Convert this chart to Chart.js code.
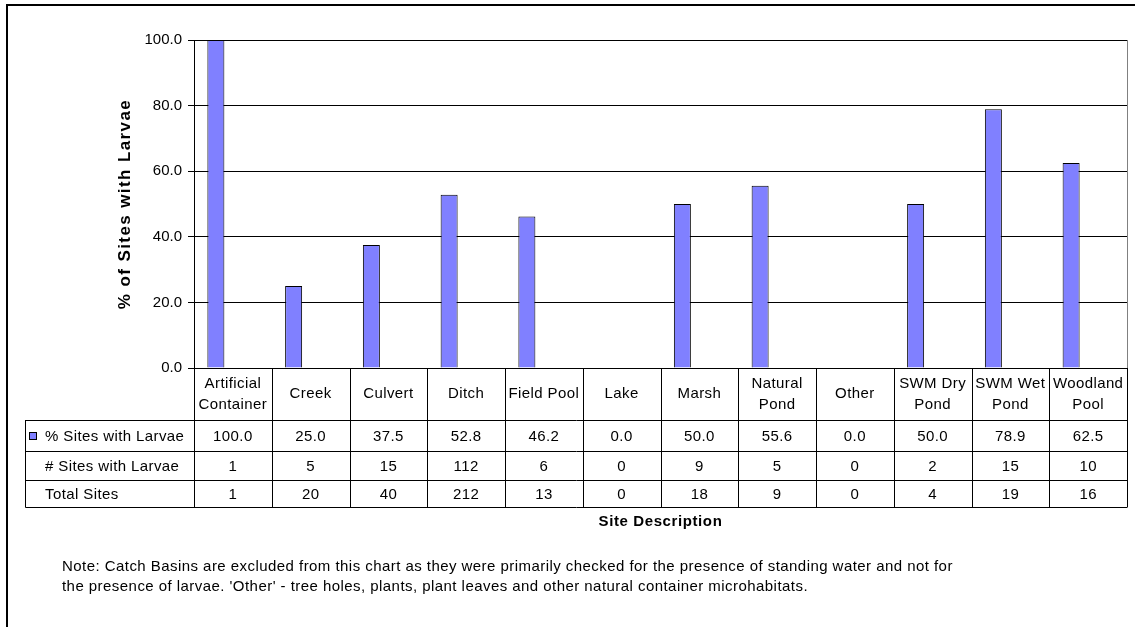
<!DOCTYPE html>
<html>
<head>
<meta charset="utf-8">
<script src="https://cdn.jsdelivr.net/npm/chart.js@4/dist/chart.umd.min.js"></script>
<style>
  html, body { margin: 0; padding: 0; background: #fff; }
  canvas { display: block; }
</style>
</head>
<body>
<canvas id="chart" width="1135" height="627"></canvas>
<script>
// Site types surveyed and the larval results for each
const categories = [
  ['Artificial', 'Container'], 'Creek', 'Culvert', 'Ditch', 'Field Pool', 'Lake',
  'Marsh', ['Natural', 'Pond'], 'Other', ['SWM Dry', 'Pond'], ['SWM Wet', 'Pond'], ['Woodland', 'Pool']
];
const pctWithLarvae   = [100.0, 25.0, 37.5, 52.8, 46.2, 0.0, 50.0, 55.6, 0.0, 50.0, 78.9, 62.5];
const sitesWithLarvae = [1, 5, 15, 112, 6, 0, 9, 5, 0, 2, 15, 10];
const totalSites      = [1, 20, 40, 212, 13, 0, 18, 9, 0, 4, 19, 16];
const yTickValues     = [0, 20, 40, 60, 80, 100];
const rowLabels       = ['% Sites with Larvae', '# Sites with Larvae', 'Total Sites'];
const xAxisTitle      = 'Site Description';
const yAxisTitle      = '% of Sites with Larvae';
const noteLines = [
  'Note: Catch Basins are excluded from this chart as they were primarily checked for the presence of standing water and not for',
  "the presence of larvae. 'Other' - tree holes, plants, plant leaves and other natural container microhabitats."
];

const FONT = "'Liberation Sans', Arial, Helvetica, sans-serif";
const BAR_FILL = '#8080FF';

function spaced(ctx, px) {
  if ('letterSpacing' in ctx) ctx.letterSpacing = px + 'px';
}

// Data table under the plot, axis titles, outer frame and note
const tablePlugin = {
  id: 'dataTable',
  afterDraw(chart) {
    const { ctx, chartArea: area, scales: { x } } = chart;
    const n = categories.length;
    const colW = (area.right - area.left) / n;
    const headBottom = 420;
    const rowLines = [420, 451, 480, 507];
    const keyLeft = 25;

    ctx.save();
    ctx.lineWidth = 1;

    // plot-area right border
    ctx.beginPath();
    ctx.strokeStyle = '#808080';
    ctx.moveTo(Math.round(area.right) + 0.5, area.top);
    ctx.lineTo(Math.round(area.right) + 0.5, area.bottom);
    ctx.stroke();

    ctx.strokeStyle = '#000';
    ctx.beginPath();
    // column separators through header and data rows
    for (let i = 0; i <= n; i++) {
      const cx = Math.round(area.left + i * colW) + 0.5;
      ctx.moveTo(cx, area.bottom);
      ctx.lineTo(cx, rowLines[rowLines.length - 1]);
    }
    // horizontal rules for data rows, including the label column
    rowLines.forEach(y => {
      ctx.moveTo(keyLeft + 0.5, y + 0.5);
      ctx.lineTo(Math.round(area.right) + 0.5, y + 0.5);
    });
    ctx.moveTo(keyLeft + 0.5, rowLines[0]);
    ctx.lineTo(keyLeft + 0.5, rowLines[rowLines.length - 1] + 0.5);
    ctx.stroke();

    ctx.fillStyle = '#000';
    ctx.font = `15px ${FONT}`;
    spaced(ctx, 0.4);
    ctx.textAlign = 'center';
    ctx.textBaseline = 'middle';

    // category header cells
    categories.forEach((cat, i) => {
      const cx = x.getPixelForValue(i);
      const lines = Array.isArray(cat) ? cat : [cat];
      const mid = (area.bottom + headBottom) / 2;
      const lh = 21;
      lines.forEach((t, k) => {
        ctx.fillText(t, cx, mid + (k - (lines.length - 1) / 2) * lh);
      });
    });

    // data rows
    const rows = [pctWithLarvae.map(v => v.toFixed(1)), sitesWithLarvae.map(String), totalSites.map(String)];
    rows.forEach((row, r) => {
      const cy = (rowLines[r] + rowLines[r + 1]) / 2 + 1;
      row.forEach((t, i) => ctx.fillText(t, x.getPixelForValue(i), cy));
      ctx.textAlign = 'left';
      ctx.fillText(rowLabels[r], 45, cy);
      ctx.textAlign = 'center';
    });

    // legend key beside the plotted series row
    const keyY = (rowLines[0] + rowLines[1]) / 2 - 3.5;
    ctx.fillStyle = BAR_FILL;
    ctx.fillRect(29, keyY, 7, 7);
    ctx.strokeStyle = '#000';
    ctx.strokeRect(29.5, keyY + 0.5, 7, 7);

    // horizontal axis caption
    ctx.fillStyle = '#000';
    ctx.font = `bold 15px ${FONT}`;
    spaced(ctx, 0.6);
    ctx.fillText(xAxisTitle, (area.left + area.right) / 2, 522);

    // vertical axis caption
    ctx.save();
    ctx.translate(125, (area.top + area.bottom) / 2);
    ctx.rotate(-Math.PI / 2);
    ctx.font = `bold 17px ${FONT}`;
    spaced(ctx, 1.4);
    ctx.fillText(yAxisTitle, 0, 0);
    ctx.restore();

    // note
    ctx.font = `15px ${FONT}`;
    spaced(ctx, 0.45);
    ctx.textAlign = 'left';
    noteLines.forEach((t, k) => ctx.fillText(t, 62, 567 + k * 20));
    spaced(ctx, 0);

    // outer frame
    ctx.lineWidth = 2;
    ctx.beginPath();
    ctx.moveTo(7, chart.height);
    ctx.lineTo(7, 5);
    ctx.lineTo(chart.width, 5);
    ctx.stroke();
    ctx.restore();
  }
};

const spacer = () => ({
  label: '',
  data: categories.map(() => null),
  backgroundColor: 'rgba(0,0,0,0)',
  borderWidth: 0,
  categoryPercentage: 0.656,
  barPercentage: 1
});

new Chart(document.getElementById('chart'), {
  type: 'bar',
  data: {
    labels: categories,
    datasets: [
      {
        label: rowLabels[0],
        data: pctWithLarvae,
        backgroundColor: BAR_FILL,
        borderColor: '#000',
        borderWidth: 1,
        categoryPercentage: 0.656,
        barPercentage: 1
      },
      spacer(),
      spacer()
    ]
  },
  options: {
    responsive: false,
    animation: false,
    devicePixelRatio: 1,
    layout: { padding: { left: 0, top: 40, right: 8, bottom: 259 } },
    plugins: { legend: { display: false }, tooltip: { enabled: false } },
    scales: {
      x: {
        ticks: { display: false },
        grid: { display: false, drawTicks: false },
        border: { display: true, color: '#000' },
        afterFit(s) { s.height = 0; }
      },
      y: {
        min: 0,
        max: 100,
        afterBuildTicks(s) { s.ticks = yTickValues.map(v => ({ value: v })); },
        ticks: {
          callback: v => Number(v).toFixed(1),
          font: { family: FONT, size: 15 },
          color: '#000',
          padding: 6
        },
        grid: { color: '#000', tickLength: 6, drawTicks: true },
        border: { color: '#000' },
        afterFit(s) { s.width = 194; }
      }
    }
  },
  plugins: [tablePlugin]
});
</script>
</body>
</html>
